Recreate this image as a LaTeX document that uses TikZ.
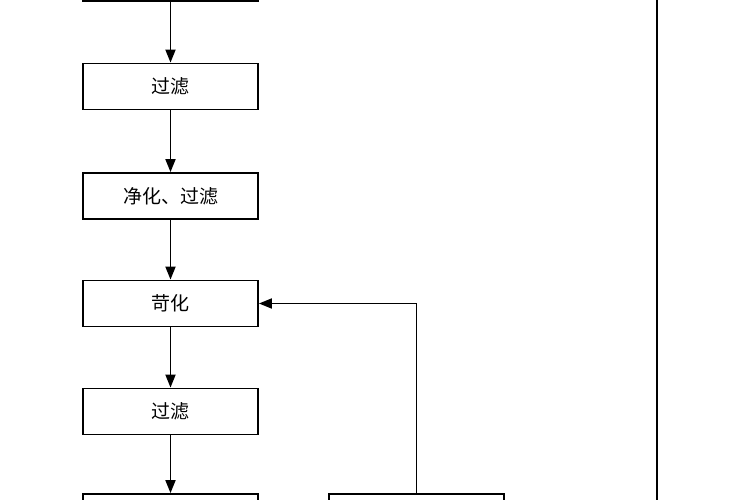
\documentclass[tikz,border=0pt]{standalone}
\usepackage{fontspec}
\newfontfamily\cjk{Noto Sans CJK SC}
\usetikzlibrary{arrows.meta}
\begin{document}
\begin{tikzpicture}[x=1pt,y=-1pt,
  box/.style={draw,line width=1.8pt,minimum width=175pt,minimum height=46pt,inner sep=0pt,font=\cjk\fontsize{19}{19}\selectfont},
  arr/.style={line width=1.8pt,-{Triangle[length=13pt,width=10pt]}},
  ln/.style={line width=1.8pt}]
\useasboundingbox (0,0) rectangle (750,500);
\clip (0,0) rectangle (750,500);
\node[box] (b0) at (170.5,-22) {};
\node[box] (b1) at (170.5,86.5) {过滤};
\node[box] (b2) at (170.5,196) {净化、过滤};
\node[box] (b3) at (170.5,303.5) {苛化};
\node[box] (b4) at (170.5,411.5) {过滤};
\node[box] (b5) at (170.5,517) {};
\node[box] (r5) at (416.5,517) {};
\draw[arr] (b0) -- (b1);
\draw[arr] (b1) -- (b2);
\draw[arr] (b2) -- (b3);
\draw[arr] (b3) -- (b4);
\draw[arr] (b4) -- (b5);
\draw[arr] (r5.north) |- (b3.east);
\coordinate (vt) at (657,-5);
\coordinate (vb) at (657,505);
\draw[line width=1.5pt] (vt) -- (vb);
\end{tikzpicture}
\end{document}
